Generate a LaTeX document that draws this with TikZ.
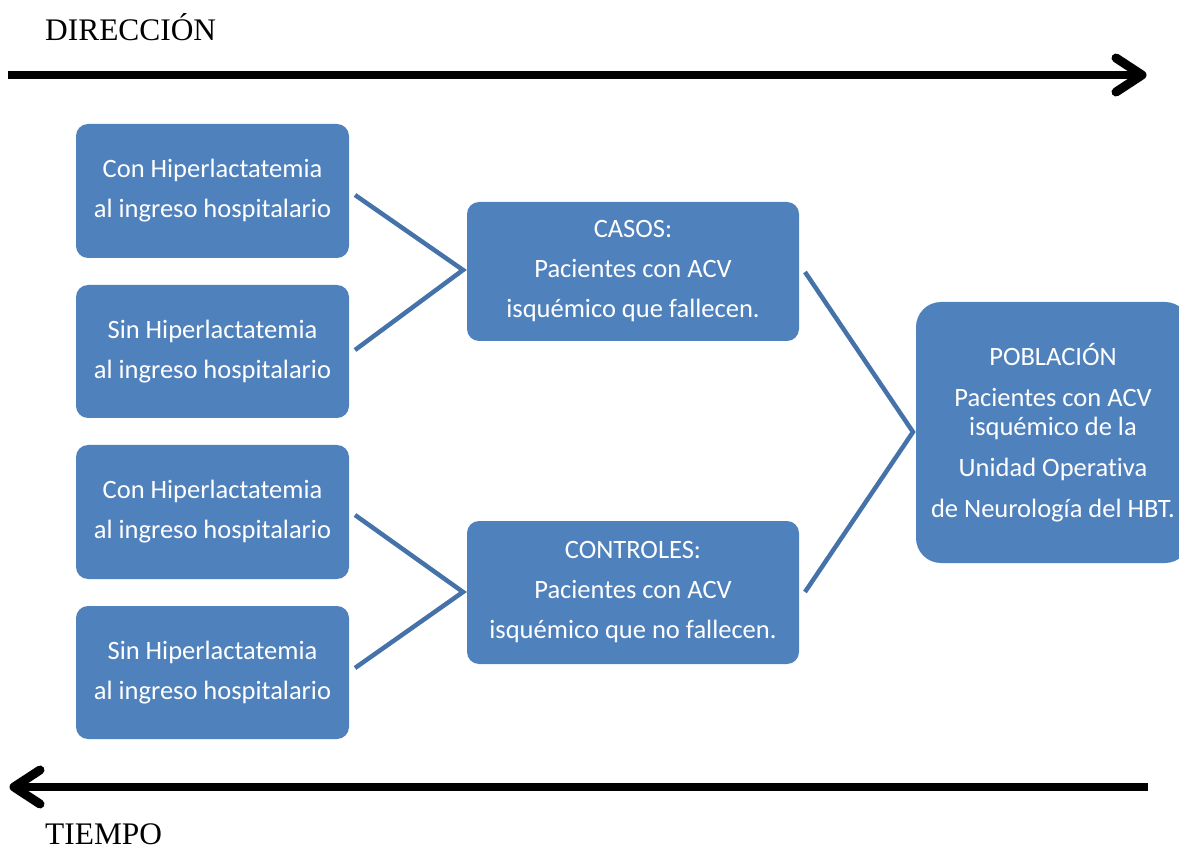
\documentclass[tikz,border=0pt]{standalone}
\usepackage{fontspec}
\setmainfont{Liberation Serif}
\newfontfamily\calib[Ligatures={NoCommon,NoContextual}]{Carlito}
\usetikzlibrary{calc}
\definecolor{boxblue}{HTML}{4F81BD}
\definecolor{connblue}{HTML}{4672AA}
\begin{document}
\begin{tikzpicture}[x=1pt,y=-1pt,
  box/.style={fill=boxblue, rounded corners=12pt, text=white,
    font=\calib\fontsize{26.5}{40}\selectfont, align=center, inner sep=0pt,
    minimum width=273pt, minimum height=134pt},
  midbox/.style={box, minimum width=332pt, minimum height=140pt},
  conn/.style={draw=connblue, line width=4.5pt},
  bigarrow/.style={line width=7.5pt, line cap=round, line join=round},
  label/.style={font=\fontsize{31.4}{34}\selectfont, inner sep=0pt, anchor=base west}]
\useasboundingbox (0,0) rectangle (1179,850);

\node[label] (dir) at (45,41) {DIRECCIÓN};
\node[label] (tiempo) at (45,844) {TIEMPO};

% arrows
\coordinate (ta) at (8,75);
\coordinate (tb) at (1142,75);
\draw[bigarrow, line cap=butt] (ta) -- (tb);
\draw[bigarrow, line width=9pt] ($(tb)+(-26,-17)$) -- (tb) -- ($(tb)+(-26,17)$);
\coordinate (ba) at (1148,787);
\coordinate (bb) at (14,787);
\draw[bigarrow, line cap=butt] (ba) -- (bb);
\draw[bigarrow, line width=9pt] ($(bb)+(26,-17)$) -- (bb) -- ($(bb)+(26,17)$);

% left boxes
\node[box] (b1) at (212.5,191) {Con Hiperlactatemia\\al ingreso hospitalario};
\node[box, minimum height=133pt] (b2) at (212.5,351.5) {Sin Hiperlactatemia\\al ingreso hospitalario};
\node[box] (b3) at (212.5,512) {Con Hiperlactatemia\\al ingreso hospitalario};
\node[box, minimum height=133pt] (b4) at (212.5,672.5) {Sin Hiperlactatemia\\al ingreso hospitalario};

% middle boxes
\node[midbox, minimum height=139pt] (casos) at (633,271.5) {CASOS:\\Pacientes con ACV\\isquémico que fallecen.};
\node[midbox, minimum height=143pt] (ctrl) at (633,592.5) {CONTROLES:\\Pacientes con ACV\\isquémico que no fallecen.};

% population
\node[box, rounded corners=25pt, minimum width=274pt, minimum height=261pt,
  font=\calib\fontsize{26.5}{29}\selectfont] (pob) at (1053,432.5)
  {POBLACIÓN\\[12pt]Pacientes con ACV\\isquémico de la\\[12pt]Unidad Operativa\\[12pt]de Neurología del HBT.};

% connectors
\coordinate (c1) at (355,195);
\coordinate (c2) at (355,350);
\coordinate (j1) at (463,270);
\draw[conn] (c1) -- (j1) -- (c2);
\coordinate (c3) at (355,515);
\coordinate (c4) at (355,668);
\coordinate (j2) at (463,592);
\draw[conn] (c3) -- (j2) -- (c4);
\coordinate (c5) at (805,272);
\coordinate (c6) at (805,592);
\coordinate (j3) at (913,432);
\draw[conn] (c5) -- (j3) -- (c6);
\end{tikzpicture}
\end{document}
